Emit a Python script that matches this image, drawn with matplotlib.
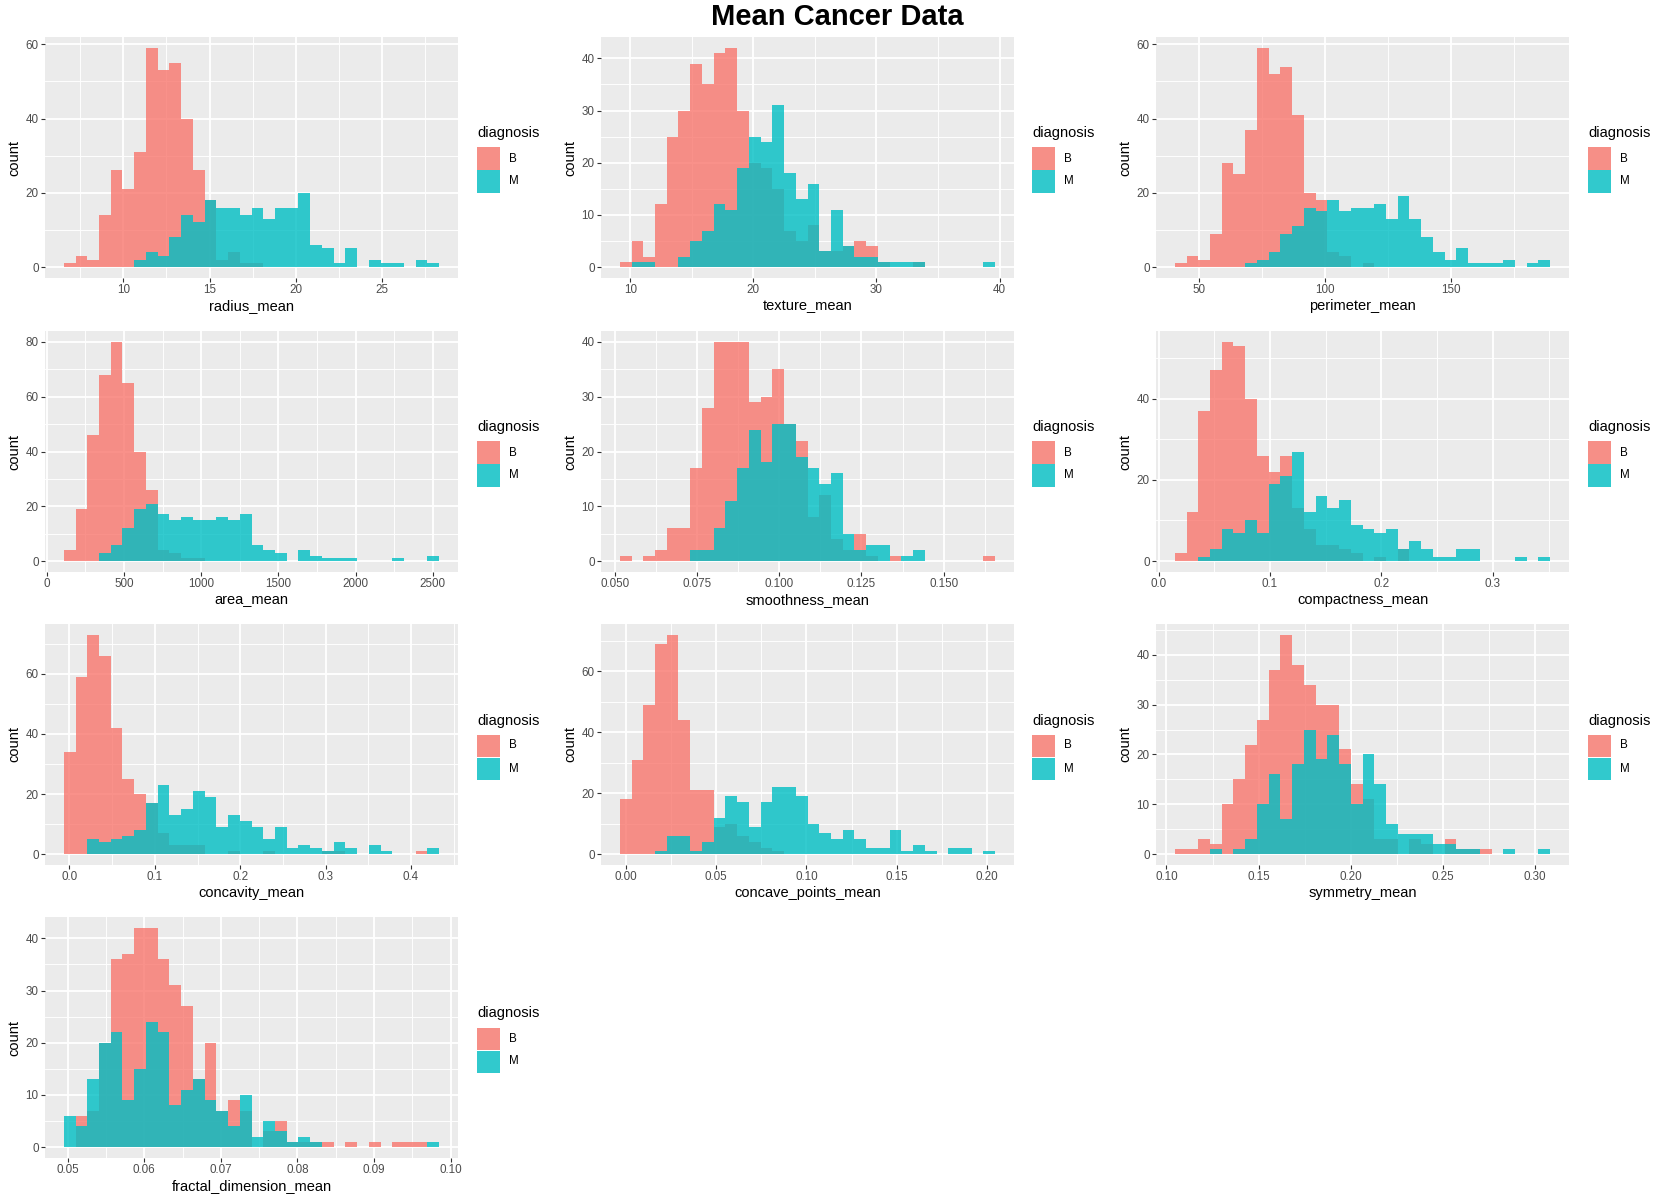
import matplotlib.pyplot as plt
from matplotlib.patches import Rectangle
import numpy as np

plt.rcParams['font.family'] = ['Liberation Sans', 'DejaVu Sans']

# bin counts (32 bins per panel), B = benign, M = malignant
radius_B = [1, 3, 2, 14, 26, 21, 31, 59, 53, 55, 40, 26, 18, 2, 4, 1, 1, 0, 0, 0, 0, 0, 0, 0, 0, 0, 0, 0, 0, 0, 0, 0]
radius_M = [0, 0, 0, 0, 0, 0, 2, 4, 3, 8, 14, 12, 18, 16, 16, 14, 16, 13, 16, 16, 20, 6, 5, 1, 5, 0, 2, 1, 1, 0, 2, 1]

texture_B = [1, 5, 2, 12, 25, 30, 39, 35, 41, 42, 30, 20, 19, 15, 7, 5, 8, 3, 3, 4, 5, 4, 1, 0, 0, 1, 0, 0, 0, 0, 0, 0]
texture_M = [0, 1, 1, 0, 0, 2, 5, 7, 12, 11, 19, 25, 24, 31, 18, 13, 16, 3, 11, 4, 2, 2, 1, 1, 1, 1, 0, 0, 0, 0, 0, 1]

perimeter_B = [1, 3, 2, 9, 28, 25, 37, 59, 52, 54, 41, 20, 18, 4, 3, 0, 1, 0, 0, 0, 0, 0, 0, 0, 0, 0, 0, 0, 0, 0, 0, 0]
perimeter_M = [0, 0, 0, 0, 0, 0, 1, 2, 4, 9, 11, 16, 15, 18, 15, 16, 16, 17, 13, 19, 13, 8, 4, 2, 5, 1, 1, 1, 2, 0, 1, 2]

area_B = [4, 19, 46, 68, 80, 65, 40, 26, 4, 3, 1, 1, 0, 0, 0, 0, 0, 0, 0, 0, 0, 0, 0, 0, 0, 0, 0, 0, 0, 0, 0, 0]
area_M = [0, 0, 0, 3, 6, 12, 19, 21, 17, 15, 16, 15, 15, 16, 15, 17, 6, 4, 3, 0, 4, 2, 1, 1, 1, 0, 0, 0, 1, 0, 0, 2]

smooth_B = [1, 0, 1, 2, 6, 6, 17, 28, 40, 40, 40, 29, 30, 35, 25, 22, 8, 12, 4, 2, 5, 1, 0, 1, 0, 0, 0, 0, 0, 0, 0, 1]
smooth_M = [0, 0, 0, 0, 0, 0, 2, 2, 6, 11, 17, 24, 18, 25, 25, 19, 17, 14, 16, 5, 2, 3, 3, 0, 1, 2, 0, 0, 0, 0, 0, 0]

compact_B = [2, 12, 37, 47, 54, 53, 40, 26, 22, 26, 13, 8, 4, 4, 3, 2, 0, 1, 0, 3, 0, 0, 0, 0, 0, 0, 0, 0, 0, 0, 0, 0]
compact_M = [0, 0, 1, 3, 8, 7, 10, 7, 19, 21, 27, 12, 16, 13, 15, 9, 8, 7, 8, 3, 5, 3, 1, 1, 3, 3, 0, 0, 0, 1, 0, 1]

concav_B = [34, 59, 73, 66, 42, 25, 20, 17, 7, 3, 3, 3, 0, 0, 1, 0, 0, 1, 0, 0, 0, 0, 1, 1, 0, 0, 0, 0, 0, 0, 1, 0]
concav_M = [0, 0, 5, 4, 5, 6, 8, 17, 23, 13, 15, 21, 19, 9, 13, 11, 9, 5, 9, 2, 3, 2, 1, 4, 2, 0, 3, 1, 0, 0, 0, 2]

cpts_B = [18, 31, 49, 69, 72, 44, 21, 21, 9, 10, 6, 4, 2, 1, 0, 0, 0, 0, 0, 0, 0, 0, 0, 0, 0, 0, 0, 0, 0, 0, 0, 0]
cpts_M = [0, 0, 0, 1, 6, 6, 1, 4, 12, 19, 17, 9, 17, 22, 22, 19, 10, 7, 5, 8, 5, 2, 2, 8, 1, 3, 1, 0, 2, 2, 0, 1]

sym_B = [1, 1, 3, 2, 10, 15, 22, 27, 37, 44, 38, 34, 30, 30, 21, 14, 11, 3, 3, 0, 3, 2, 0, 3, 1, 1, 1, 0, 0, 0, 0, 0]
sym_M = [0, 0, 0, 1, 0, 1, 3, 10, 16, 7, 18, 25, 19, 24, 18, 10, 20, 14, 6, 4, 4, 4, 2, 2, 1, 1, 0, 0, 1, 0, 0, 1]

fractal_B = [0, 6, 7, 20, 36, 37, 42, 42, 36, 31, 27, 13, 20, 7, 9, 7, 0, 3, 5, 1, 1, 1, 1, 0, 1, 0, 1, 0, 1, 1, 1, 0]
fractal_M = [6, 4, 13, 20, 22, 9, 15, 24, 22, 8, 11, 13, 9, 7, 4, 10, 2, 5, 3, 1, 2, 1, 0, 0, 0, 0, 0, 0, 0, 0, 0, 1]

# outer bin edges of each histogram
radius_range = (6.55, 28.3)
texture_range = (9.15, 39.65)
perimeter_range = (40.5, 189.5)
area_range = (110, 2542)
smooth_range = (0.0515, 0.1657)
compact_range = (0.0146, 0.3515)
concav_range = (-0.0066, 0.433)
cpts_range = (-0.0034, 0.2046)
sym_range = (0.1045, 0.3083)
fractal_range = (0.0495, 0.0985)

radius_ticks = [10, 15, 20, 25]
texture_ticks = [10, 20, 30, 40]
perimeter_ticks = [50, 100, 150]
area_ticks = [0, 500, 1000, 1500, 2000, 2500]
smooth_ticks = [0.050, 0.075, 0.100, 0.125, 0.150]
compact_ticks = [0.0, 0.1, 0.2, 0.3]
concav_ticks = [0.0, 0.1, 0.2, 0.3, 0.4]
cpts_ticks = [0.00, 0.05, 0.10, 0.15, 0.20]
sym_ticks = [0.10, 0.15, 0.20, 0.25, 0.30]
fractal_ticks = [0.05, 0.06, 0.07, 0.08, 0.09, 0.10]

panels = [
    ('radius_mean', radius_B, radius_M, radius_range, radius_ticks, '{:.0f}', 20),
    ('texture_mean', texture_B, texture_M, texture_range, texture_ticks, '{:.0f}', 10),
    ('perimeter_mean', perimeter_B, perimeter_M, perimeter_range, perimeter_ticks, '{:.0f}', 20),
    ('area_mean', area_B, area_M, area_range, area_ticks, '{:.0f}', 20),
    ('smoothness_mean', smooth_B, smooth_M, smooth_range, smooth_ticks, '{:.3f}', 10),
    ('compactness_mean', compact_B, compact_M, compact_range, compact_ticks, '{:.1f}', 20),
    ('concavity_mean', concav_B, concav_M, concav_range, concav_ticks, '{:.1f}', 20),
    ('concave_points_mean', cpts_B, cpts_M, cpts_range, cpts_ticks, '{:.2f}', 20),
    ('symmetry_mean', sym_B, sym_M, sym_range, sym_ticks, '{:.2f}', 10),
    ('fractal_dimension_mean', fractal_B, fractal_M, fractal_range, fractal_ticks, '{:.2f}', 10),
]

W, H = 1664, 1203
col_left = [45, 601, 1156]
leg_left = [477, 1032, 1588]
row_top = [37, 331, 624, 917]
pw, ph = 413, 241

c_b = '#F8766D'
c_m = '#00BFC4'
fs_tick = 8.4
fs_title = 10.5

fig = plt.figure(figsize=(W / 100, H / 100), dpi=100, facecolor='white')


def midpoints(ticks, lo, hi):
    step = ticks[1] - ticks[0]
    pts = [ticks[0] - step / 2] + [t + step / 2 for t in ticks]
    return [p for p in pts if lo <= p <= hi]


for i, (name, cb, cm, (lo, hi), xt, fmt, ystep) in enumerate(panels):
    r, c = divmod(i, 3)
    x0, y0 = col_left[c], row_top[r]
    ax = fig.add_axes([x0 / W, 1 - (y0 + ph) / H, pw / W, ph / H])
    ax.set_facecolor('#EBEBEB')
    ax.set_axisbelow(True)

    edges = np.linspace(lo, hi, len(cb) + 1)
    ax.stairs(cb, edges, fill=True, color=c_b, alpha=0.8, lw=0)
    ax.stairs(cm, edges, fill=True, color=c_m, alpha=0.8, lw=0)

    ymax = max(max(cb), max(cm))
    ylim = (-0.05 * ymax, 1.05 * ymax)
    xr = hi - lo
    xlim = (lo - 0.05 * xr, hi + 0.05 * xr)
    ax.set_xlim(*xlim)
    ax.set_ylim(*ylim)

    yt = [v for v in range(0, int(ylim[1]) + 1, ystep)]
    ax.set_yticks(yt)
    ax.set_yticklabels([str(v) for v in yt])
    ax.set_xticks(xt)
    ax.set_xticklabels([fmt.format(v) for v in xt])
    ax.set_xticks(midpoints(xt, *xlim), minor=True)
    ax.set_yticks(midpoints(yt, *ylim), minor=True)

    ax.grid(which='major', color='white', lw=1.3)
    ax.grid(which='minor', color='white', lw=0.65)
    for s in ax.spines.values():
        s.set_visible(False)
    ax.tick_params(which='major', length=2.6, width=0.8, color='#333333',
                   labelcolor='#4D4D4D', labelsize=fs_tick, pad=2)
    ax.tick_params(which='minor', length=0)

    ax.set_xlabel(name, fontsize=fs_title, labelpad=2)
    ax.set_ylabel('count', fontsize=fs_title, labelpad=3)

    # legend drawn by hand, ggplot style
    lx = leg_left[c]
    cy = y0 + ph / 2
    fig.text(lx / W, 1 - (cy - 24) / H, 'diagnosis', fontsize=fs_title,
             ha='left', va='center')
    for k, (lab, col) in enumerate([('B', c_b), ('M', c_m)]):
        ky = cy - 10 + k * 23
        fig.add_artist(Rectangle((lx / W, 1 - (ky + 22) / H), 23 / W, 22 / H,
                                 transform=fig.transFigure, facecolor='#F2F2F2', lw=0))
        fig.add_artist(Rectangle((lx / W, 1 - (ky + 22) / H), 23 / W, 22 / H,
                                 transform=fig.transFigure, facecolor=col, alpha=0.8, lw=0))
        fig.text((lx + 32) / W, 1 - (ky + 11) / H, lab, fontsize=fs_tick,
                 ha='left', va='center')

fig.text(837 / W, 1 - 17 / H, 'Mean Cancer Data', fontsize=21, fontweight='bold',
         ha='center', va='center')

fig.savefig('out.png', dpi=100, facecolor='white')
